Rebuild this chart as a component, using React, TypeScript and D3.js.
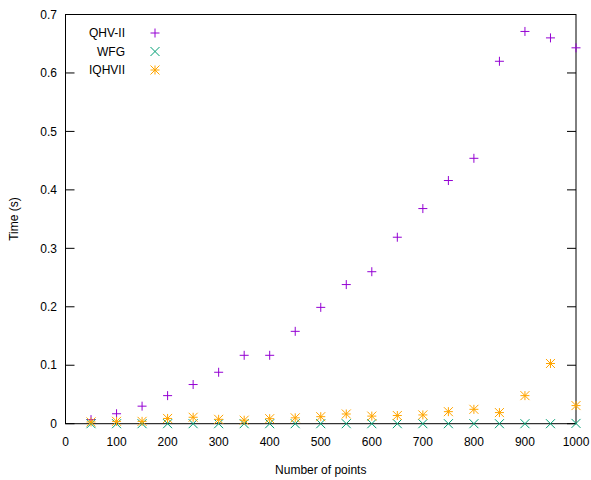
import React from "react";
import * as d3 from "d3";

const xValues = [50,100,150,200,250,300,350,400,450,500,550,600,650,700,750,800,850,900,950,1000];
const qhvII = [0.007,0.017,0.030,0.048,0.067,0.088,0.117,0.117,0.158,0.199,0.238,0.260,0.319,0.368,0.416,0.454,0.620,0.671,0.660,0.643];
const wfg = [0,0,0,0,0,0,0,0,0,0,0,0,0,0,0,0,0,0,0,0.0005];
const iqhvii = [0.003,0.004,0.004,0.009,0.011,0.0075,0.006,0.0086,0.010,0.012,0.0166,0.013,0.014,0.015,0.0206,0.0246,0.019,0.048,0.103,0.031];
const xTicks = [0,100,200,300,400,500,600,700,800,900,1000];
const yTicks = [0,0.1,0.2,0.3,0.4,0.5,0.6,0.7];
const seriesNames = ["QHV-II","WFG","IQHVII"];
const seriesColors = ["#9400d3","#009e73","#ffa500"];

const W = 591, H = 480;
const L = 65.5, R = 576, T = 14.5, B = 423.7;
const font = "Liberation Sans, Arial, sans-serif";
const fs = 12;

function Marker({ kind, x, y, color }: { kind: number; x: number; y: number; color: string }) {
  const s = 4.5;
  if (kind === 0) {
    return <path d={`M${x - s},${y}H${x + s}M${x},${y - s}V${y + s}`} stroke={color} strokeWidth={1} fill="none" />;
  }
  if (kind === 1) {
    return <path d={`M${x - s},${y - s}L${x + s},${y + s}M${x - s},${y + s}L${x + s},${y - s}`} stroke={color} strokeWidth={1} fill="none" />;
  }
  return (
    <path
      d={`M${x - s},${y}H${x + s}M${x},${y - s}V${y + s}M${x - s},${y - s}L${x + s},${y + s}M${x - s},${y + s}L${x + s},${y - s}`}
      stroke={color}
      strokeWidth={1}
      fill="none"
    />
  );
}

export default function App() {
  const x = d3.scaleLinear().domain([0, 1000]).range([L, R]);
  const y = d3.scaleLinear().domain([0, 0.7]).range([B, T]);
  const series = [qhvII, wfg, iqhvii];
  const tickLen = 9;
  return (
    <svg width={W} height={H} style={{ position: "absolute", left: 0, top: 0, background: "#fff" }} fontFamily={font}>
      <rect x={0} y={0} width={W} height={H} fill="#fff" />
      {yTicks.map((t) => (
        <g key={"y" + t}>
          <line x1={L} x2={L + tickLen} y1={y(t)} y2={y(t)} stroke="#000" strokeWidth={1} />
          <line x1={R} x2={R - tickLen} y1={y(t)} y2={y(t)} stroke="#000" strokeWidth={1} />
          <text x={57} y={y(t)} dy="0.35em" textAnchor="end" fontSize={fs} fill="#000">
            {d3.format("~g")(t)}
          </text>
        </g>
      ))}
      {xTicks.map((t) => (
        <g key={"x" + t}>
          <text x={x(t)} y={442} dy="0.35em" textAnchor="middle" fontSize={fs} fill="#000">
            {t}
          </text>
        </g>
      ))}
      <rect x={L} y={T} width={R - L} height={B - T} fill="none" stroke="#000" strokeWidth={1} />
      <text transform={`translate(14,${(T + B) / 2}) rotate(-90)`} textAnchor="middle" dy="0.35em" fontSize={fs} fill="#000">
        Time (s)
      </text>
      <text x={(L + R) / 2} y={470} dy="0.35em" textAnchor="middle" fontSize={fs} fill="#000">
        Number of points
      </text>
      {series.map((vals, si) =>
        vals.map((v, i) => (
          <Marker key={si + "-" + i} kind={si} x={x(xValues[i])} y={y(v)} color={seriesColors[si]} />
        ))
      )}
      {seriesNames.map((n, i) => (
        <g key={n}>
          <text x={125} y={33 + i * 18.5} dy="0.35em" textAnchor="end" fontSize={fs} fill="#000">
            {n}
          </text>
          <Marker kind={i} x={155} y={33 + i * 18.5} color={seriesColors[i]} />
        </g>
      ))}
    </svg>
  );
}
